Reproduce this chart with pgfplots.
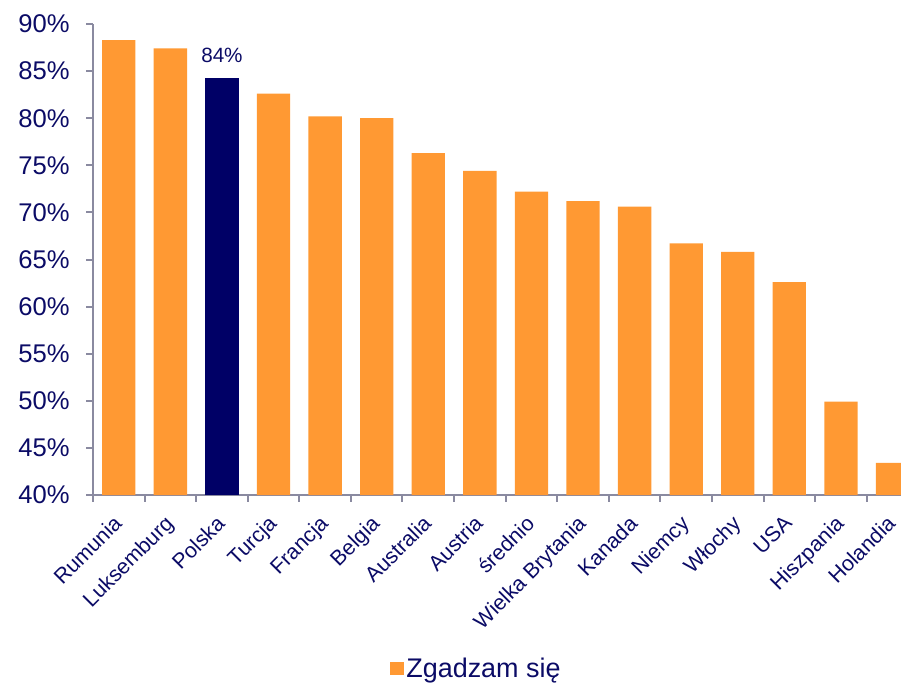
\documentclass[border=0pt]{standalone}
\usepackage{pgfplots}
\pgfplotsset{compat=1.18}
\usepackage{fontspec}
\setmainfont{Liberation Sans}
\definecolor{txt}{HTML}{0B0B66}
\definecolor{org}{HTML}{FF9933}
\definecolor{navy}{HTML}{000066}
\definecolor{axg}{HTML}{8A8AA0}
\begin{document}
\begin{tikzpicture}
\useasboundingbox (0,0) rectangle (675.75pt,512.25pt);
\begin{axis}[
  at={(69.75pt,141pt)}, anchor=south west,
  scale only axis, width=606pt, height=353.25pt,
  xmin=-0.5, xmax=15.165, ymin=40, ymax=90,
  axis x line*=bottom, axis y line*=left,
  axis line style={draw=axg, line width=1.5pt, -},
  tick align=outside,
  major tick length=5pt,
  tick style={draw=axg, line width=1.5pt},
  ytick={40,45,...,90},
  yticklabels={40\%,45\%,50\%,55\%,60\%,65\%,70\%,75\%,80\%,85\%,90\%},
  yticklabel style={font=\fontsize{19.2}{22}\selectfont, color=txt, xshift=-9pt},
  xtick={-0.5,0.5,...,14.5},
  xticklabels={},
  extra x ticks={0,1,...,15},
  extra x tick labels={Rumunia,Luksemburg,Polska,Turcja,Francja,Belgia,Australia,Austria,średnio,Wielka Brytania,Kanada,Niemcy,Włochy,USA,Hiszpania,Holandia},
  extra x tick style={major tick length=0pt, tick style={draw=none},
    xticklabel style={rotate=45, anchor=north east, font=\fontsize{16}{19}\selectfont, color=txt, xshift=-10.3pt, yshift=-3.1pt}},
  legend style={at={(0.475,-0.369)}, anchor=center, draw=none, fill=none,
    font=\fontsize{20.2}{23}\selectfont, text=txt},
  legend image code/.code={\fill[org] (0pt,-5pt) rectangle (10pt,5pt);},
]
\addplot[ybar, bar width=0.646, bar shift=0pt, fill=org, draw=none] coordinates {
 (0,88.3) (1,87.4) (3,82.6) (4,80.2) (5,80.0) (6,76.3) (7,74.4) (8,72.2)
 (9,71.2) (10,70.6) (11,66.7) (12,65.8) (13,62.6) (14,49.9) (15,43.4)};
\addlegendentry{Zgadzam się}
\addplot[ybar, bar width=0.646, bar shift=0pt, fill=navy, draw=none,
  nodes near coords={84\%},
  nodes near coords style={font=\fontsize{15.5}{18}\selectfont, text=txt, yshift=7.5pt},
  forget plot] coordinates {(2,84.3)};
\end{axis}
\end{tikzpicture}
\end{document}
